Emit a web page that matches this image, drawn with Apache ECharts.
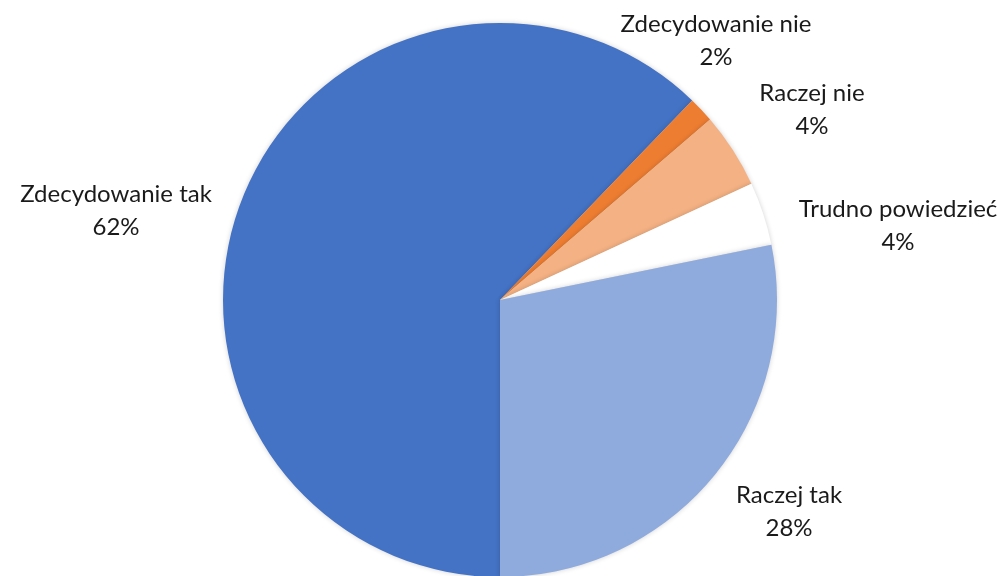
<!DOCTYPE html>
<html>
<head>
<meta charset="utf-8">
<script src="https://cdn.jsdelivr.net/npm/echarts@6/dist/echarts.min.js"></script>
<style>
  html, body { margin: 0; padding: 0; background: #fff; }
  #chart { width: 1004px; height: 576px; }
</style>
</head>
<body>
<div id="chart"></div>
<script>
// odpowiedzi (kolejność zgodnie z ruchem wskazówek zegara od godz. 6)
var categories = ['Zdecydowanie tak', 'Zdecydowanie nie', 'Raczej nie', 'Trudno powiedzieć', 'Raczej tak'];
var values = [62.2, 1.5, 4.4, 3.7, 28.2];
var colors = ['#4472C4', '#ED7D31', '#F4B183', '#FFFFFF', '#8FAADC'];

// środki etykiet (px)
var labelPos = [[116, 211], [716, 41], [812, 110], [898, 226], [789, 512]];

var chart = echarts.init(document.getElementById('chart'));

var pieData = categories.map(function (name, i) {
    return { name: name, value: values[i], itemStyle: { color: colors[i] } };
});

var option = {
    backgroundColor: '#ffffff',
    animation: false,
    series: [{
        type: 'pie',
        center: [500, 300],
        radius: [0, 277],
        startAngle: 270,
        clockwise: true,
        avoidLabelOverlap: false,
        itemStyle: {
            borderWidth: 0,
            shadowColor: 'rgba(0,0,0,0.18)',
            shadowBlur: 5
        },
        emphasis: { disabled: true },
        label: {
            show: true,
            position: 'outside',
            color: '#1a1a1a',
            fontFamily: 'Lato',
            fontSize: 24,
            lineHeight: 33,
            align: 'center',
            formatter: function (p) {
                return p.name + '\n' + Math.round(p.value) + '%';
            }
        },
        labelLine: { show: false },
        labelLayout: function (params) {
            var pos = labelPos[params.dataIndex];
            return { x: pos[0], y: pos[1], align: 'center', verticalAlign: 'middle' };
        },
        data: pieData
    }]
};

chart.setOption(option);
</script>
</body>
</html>
